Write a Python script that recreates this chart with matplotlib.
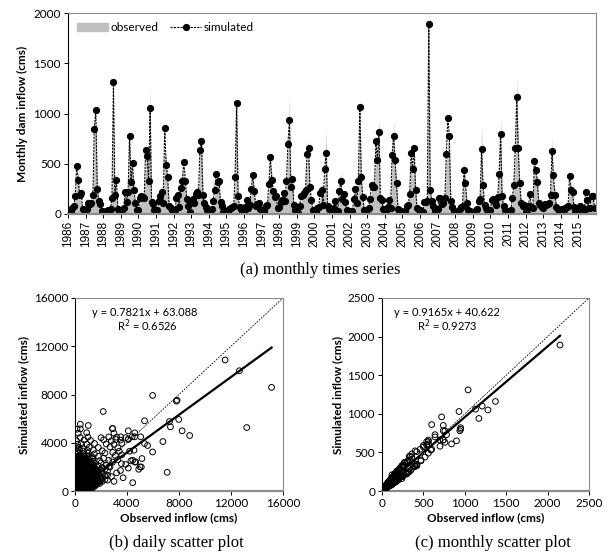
import matplotlib
matplotlib.use('Agg')
import matplotlib.pyplot as plt
from matplotlib.patches import Patch
from matplotlib.lines import Line2D
import pandas as pd

plt.rcParams['font.family'] = ['Lato', 'DejaVu Sans']

# monthly dam inflow (cms), one row per year, Jan..Dec, 1986-2015
SIM = [
    10, 15, 30, 60, 80, 180, 480, 340, 190, 210, 50, 40,
    40, 50, 110, 100, 110, 190, 850, 1030, 250, 130, 100, 30,
    10, 20, 30, 40, 40, 50, 160, 1310, 190, 340, 50, 30,
    30, 40, 60, 220, 120, 220, 780, 320, 510, 240, 110, 40,
    40, 160, 180, 170, 160, 640, 580, 330, 1050, 120, 100, 40,
    30, 40, 130, 180, 220, 110, 860, 490, 370, 80, 60, 40,
    30, 40, 160, 190, 70, 260, 330, 520, 330, 150, 80, 20,
    130, 150, 110, 200, 220, 190, 640, 730, 190, 110, 70, 40,
    30, 20, 50, 130, 240, 400, 320, 330, 120, 80, 20, 30,
    20, 30, 50, 60, 70, 80, 370, 1100, 180, 70, 50, 30,
    20, 70, 140, 60, 90, 250, 390, 230, 80, 100, 110, 50,
    10, 20, 30, 80, 90, 300, 570, 340, 230, 170, 180, 60,
    70, 120, 140, 210, 130, 330, 700, 940, 270, 350, 90, 40,
    20, 10, 80, 180, 190, 210, 240, 600, 660, 270, 140, 40,
    20, 30, 60, 70, 210, 240, 90, 450, 610, 80, 50, 30,
    30, 60, 130, 20, 30, 230, 330, 150, 200, 120, 40, 30,
    30, 20, 30, 150, 250, 110, 330, 1060, 370, 170, 40, 30,
    40, 60, 150, 290, 270, 270, 730, 540, 820, 160, 140, 50,
    30, 20, 70, 140, 60, 590, 780, 540, 310, 50, 40, 30,
    20, 10, 30, 80, 90, 200, 610, 450, 660, 240, 60, 40,
    40, 20, 20, 120, 120, 130, 1890, 240, 130, 80, 30, 40,
    50, 160, 160, 100, 110, 160, 600, 960, 780, 130, 70, 30,
    20, 10, 30, 50, 70, 80, 440, 310, 110, 40, 30, 20,
    10, 20, 40, 50, 130, 150, 650, 290, 90, 60, 40, 30,
    40, 140, 150, 120, 90, 170, 400, 800, 180, 80, 40, 30,
    20, 30, 40, 160, 290, 660, 1160, 660, 310, 110, 80, 90,
    20, 10, 80, 200, 70, 60, 530, 440, 320, 110, 90, 70,
    60, 100, 90, 100, 110, 190, 630, 390, 190, 70, 50, 30,
    20, 50, 40, 60, 70, 80, 380, 240, 220, 70, 30, 30,
    40, 80, 50, 60, 30, 220, 140, 60, 60, 180, 180, 60,
]
OBS = [
    8, 12, 35, 45, 110, 140, 360, 420, 150, 120, 70, 35,
    35, 45, 70, 130, 90, 150, 740, 930, 330, 110, 70, 35,
    12, 18, 28, 45, 50, 60, 240, 1040, 150, 260, 60, 28,
    28, 45, 70, 150, 170, 200, 760, 400, 420, 180, 90, 45,
    45, 110, 220, 130, 200, 540, 700, 240, 1280, 170, 70, 38,
    32, 45, 90, 130, 290, 80, 600, 560, 270, 110, 55, 35,
    28, 42, 110, 240, 60, 180, 420, 400, 260, 190, 60, 25,
    90, 200, 80, 150, 300, 140, 560, 780, 250, 80, 75, 38,
    32, 25, 55, 90, 180, 330, 400, 260, 160, 50, 25, 32,
    22, 30, 45, 65, 80, 90, 280, 1210, 130, 80, 45, 30,
    25, 50, 100, 70, 60, 200, 470, 170, 110, 70, 80, 55,
    12, 22, 35, 60, 120, 220, 500, 420, 160, 210, 130, 55,
    65, 90, 190, 150, 170, 250, 640, 1170, 200, 400, 70, 45,
    22, 12, 60, 130, 240, 150, 300, 540, 740, 200, 100, 45,
    25, 28, 55, 80, 150, 310, 70, 340, 840, 110, 55, 32,
    30, 45, 170, 25, 35, 170, 420, 110, 240, 90, 45, 30,
    28, 25, 35, 110, 320, 80, 260, 1130, 300, 210, 45, 32,
    45, 55, 110, 220, 350, 200, 640, 600, 950, 120, 170, 55,
    32, 22, 65, 180, 50, 500, 940, 460, 380, 55, 42, 30,
    22, 12, 35, 60, 130, 150, 560, 330, 700, 300, 65, 42,
    42, 22, 25, 90, 160, 100, 2150, 310, 110, 85, 32, 42,
    55, 120, 200, 80, 130, 120, 540, 720, 740, 170, 75, 32,
    22, 12, 32, 55, 65, 110, 520, 250, 140, 42, 32, 22,
    12, 22, 42, 55, 90, 190, 900, 220, 120, 65, 42, 32,
    42, 100, 190, 90, 120, 130, 470, 950, 140, 85, 42, 32,
    22, 32, 45, 120, 330, 560, 1370, 740, 250, 150, 85, 95,
    22, 12, 75, 150, 100, 65, 590, 360, 400, 80, 95, 75,
    65, 70, 120, 80, 150, 150, 760, 310, 250, 75, 55, 32,
    22, 55, 45, 55, 75, 85, 310, 300, 160, 75, 32, 32,
    42, 60, 55, 65, 35, 160, 190, 65, 55, 130, 230, 65,
]
YEARS = list(range(1986, 2016))

# daily (observed, simulated) pairs, cms
DAILY_CORE = [
    (20, 40), (150, 70), (300, 30), (480, 90), (650, 50), (820, 110), (1000, 160),
    (60, 210), (210, 250), (380, 190), (560, 240), (740, 200), (950, 260), (1150, 230), (1350, 300),
    (10, 380), (130, 420), (290, 370), (450, 410), (620, 390), (800, 440), (990, 380), (1200, 420), (1420, 460), (1650, 520),
    (40, 560), (190, 600), (350, 570), (520, 590), (700, 550), (880, 610), (1080, 580), (1300, 620), (1550, 600), (1800, 700),
    (0, 740), (110, 780), (270, 750), (430, 770), (610, 730), (790, 790), (960, 760), (1160, 740), (1380, 800), (1620, 770), (1950, 850),
    (50, 930), (200, 960), (370, 940), (540, 980), (720, 920), (900, 950), (1090, 990), (1270, 930), (1480, 970), (1750, 1000), (2100, 1050),
    (20, 1120), (160, 1150), (320, 1100), (490, 1140), (660, 1160), (840, 1110), (1020, 1130), (1210, 1170), (1400, 1120), (1650, 1150), (1900, 1200), (2300, 1250),
    (80, 1300), (240, 1340), (410, 1310), (580, 1290), (760, 1350), (940, 1320), (1130, 1300), (1330, 1360), (1560, 1310), (1820, 1380), (2150, 1420),
    (10, 1490), (150, 1520), (310, 1480), (480, 1510), (650, 1530), (830, 1470), (1010, 1500), (1200, 1540), (1420, 1490), (1700, 1520), (2050, 1600), (2500, 1650),
    (60, 1680), (220, 1700), (390, 1660), (560, 1720), (740, 1690), (920, 1710), (1110, 1670), (1320, 1730), (1580, 1700), (1900, 1760), (2300, 1800),
    (30, 1870), (180, 1900), (340, 1850), (510, 1890), (690, 1920), (880, 1860), (1080, 1880), (1290, 1910), (1550, 1870), (2100, 1950), (2700, 2000),
    (90, 2060), (250, 2090), (420, 2040), (600, 2080), (790, 2100), (990, 2050), (1200, 2070), (1450, 2110), (1800, 2080), (2400, 2150),
    (40, 2250), (200, 2280), (380, 2230), (560, 2270), (760, 2300), (970, 2240), (1180, 2260), (1500, 2290), (2000, 2320), (2900, 2400),
    (120, 2450), (290, 2480), (470, 2430), (660, 2470), (870, 2500), (1100, 2440), (1400, 2460), (1900, 2520), (2600, 2550),
    (20, 2650), (210, 2680), (400, 2630), (600, 2690), (820, 2660), (1050, 2640), (1350, 2700), (2200, 2720),
    (100, 2850), (300, 2880), (520, 2830), (740, 2870), (980, 2900), (1300, 2840), (1800, 2880), (3100, 2950),
]
DAILY_DENSE = [
    (90, 130), (230, 150), (390, 110), (570, 160), (740, 120), (900, 170), (1100, 140), (1300, 190),
    (0, 300), (140, 330), (300, 290), (470, 320), (650, 300), (850, 340), (1050, 310), (1260, 350), (1500, 380),
    (70, 480), (240, 500), (400, 470), (580, 510), (760, 490), (940, 520), (1140, 480), (1360, 530), (1600, 560), (1900, 620),
    (20, 660), (160, 690), (330, 650), (500, 680), (680, 700), (860, 660), (1040, 690), (1250, 710), (1480, 680), (1750, 740), (2100, 800),
    (90, 840), (240, 870), (410, 830), (590, 860), (770, 880), (950, 840), (1140, 860), (1350, 880), (1580, 850), (1850, 900), (2300, 950),
    (0, 1030), (130, 1060), (290, 1020), (450, 1050), (620, 1070), (800, 1030), (980, 1050), (1170, 1080), (1370, 1040), (1600, 1070), (2000, 1100),
    (100, 1210), (260, 1240), (430, 1200), (610, 1230), (790, 1250), (980, 1210), (1170, 1230), (1380, 1260), (1700, 1240), (2500, 1300),
    (40, 1400), (200, 1430), (360, 1390), (540, 1420), (720, 1440), (900, 1400), (1090, 1420), (1300, 1450), (1600, 1400), (1950, 1450),
    (90, 1590), (260, 1620), (430, 1580), (610, 1610), (790, 1630), (970, 1590), (1160, 1610), (1400, 1640), (1750, 1600),
    (0, 1770), (150, 1800), (300, 1760), (470, 1790), (650, 1810), (830, 1770), (1020, 1790), (1250, 1820), (1600, 1780),
    (60, 1960), (220, 1990), (380, 1950), (560, 1980), (740, 2000), (930, 1960), (1150, 1980), (1400, 2000),
    (10, 2150), (160, 2180), (320, 2140), (500, 2170), (680, 2190), (880, 2150), (1100, 2170), (1350, 2190),
    (80, 2340), (240, 2370), (420, 2330), (600, 2360), (800, 2380), (1000, 2340), (1250, 2360),
    (50, 2540), (220, 2570), (400, 2530), (580, 2560), (780, 2580), (1000, 2540),
    (140, 2740), (330, 2770), (550, 2730), (800, 2760), (1100, 2780),
]
DAILY_SPREAD = [
    (40, 3090), (240, 3120), (450, 3060), (700, 3110), (1000, 3140), (1500, 3080), (2300, 3150), (2900, 3200),
    (150, 3340), (380, 3370), (640, 3320), (950, 3360), (1400, 3390), (2100, 3330), (3400, 3300),
    (60, 3590), (300, 3620), (600, 3570), (1100, 3630), (1800, 3600), (2700, 3650), (3300, 3580),
    (200, 3880), (500, 3920), (900, 3870), (1500, 3940), (2400, 3900), (3000, 3860), (3600, 3950),
    (100, 4180), (700, 4230), (1200, 4190), (2200, 4250), (2800, 4160), (3500, 4220), (4100, 4300),
    (400, 4440), (1000, 4470), (2000, 4420), (2600, 4480), (3200, 4460), (3900, 4430), (4400, 4500),
    (250, 4790), (900, 4830), (3000, 4780), (4600, 4820), (150, 5120), (2900, 5180),
    (2500, 900), (2800, 1200), (3000, 800), (3200, 1500), (3500, 1700), (3700, 1100), (3900, 2200),
    (4100, 1900), (4300, 2500), (4600, 2400), (4900, 1800), (5000, 2000), (3300, 2600), (2600, 2000),
    (3600, 3000), (4200, 3300),
]
DAILY_OUTER = [
    (11550, 10860), (12650, 9970), (15120, 8590), (13210, 5260), (5970, 7920), (7850, 7530),
    (7800, 7450), (2170, 6590), (410, 5540), (410, 5150), (1020, 5430), (7980, 5930), (7270, 5760),
    (5350, 5820), (7340, 5320), (8240, 4990), (8820, 4600), (6760, 4100), (5970, 3240), (5580, 3770),
    (7090, 1550), (4440, 690), (5150, 2690), (5100, 1990), (2880, 5180), (4100, 4990), (4100, 4270),
    (4590, 4490), (5050, 4490), (5350, 3930), (4440, 2550), (4670, 2410), (4540, 3380), (3570, 2270),
    (3140, 4270), (3520, 4490),
]
DAILY_FIT = (0.7821, 63.088)
MONTHLY_FIT = (0.9165, 40.622)

W, H = 615, 558
fig = plt.figure(figsize=(W / 100, H / 100), dpi=100)


def box(l, t, r, b):
    return [l / W, 1 - b / H, (r - l) / W, (b - t) / H]


def style(ax):
    ax.spines['left'].set_color('black')
    ax.spines['right'].set_color('#8c8c8c')
    ax.spines['top'].set_color('#8c8c8c')
    ax.spines['bottom'].set_color('#8c8c8c')
    ax.spines['bottom'].set_linewidth(1.6)
    ax.tick_params(direction='out', length=3, width=0.7, labelsize=8.5, pad=2)


# (a) monthly time series
ax = fig.add_axes(box(68, 13, 596, 214))
dates = pd.date_range('1986-01-01', periods=len(SIM), freq='MS')
ax.fill_between(dates, OBS, color='#c0c0c0', lw=0)
ax.plot(dates, SIM, color='black', ls='--', dashes=(2, 1), lw=0.8,
        marker='o', ms=4.2)
ax.set_xlim(dates[0], pd.Timestamp('2016-01-01'))
ax.set_ylim(0, 2000)
ax.set_yticks([0, 500, 1000, 1500, 2000])
ticks = [pd.Timestamp(f'{y}-01-01') for y in YEARS]
ax.set_xticks(ticks)
ax.set_xticklabels([str(y) for y in YEARS], rotation=90,
                   family='Liberation Sans', fontsize=8.5)
style(ax)
ax.set_ylabel('Monthly dam inflow (cms)', fontweight='bold', fontsize=8.5)
handles = [Patch(color='#c0c0c0'),
           Line2D([], [], color='black', ls='--', dashes=(2, 1), lw=0.8,
                  marker='o', ms=4.2)]
ax.legend(handles, ['observed', 'simulated'], loc='upper left', ncol=2,
          frameon=False, fontsize=8.5, handlelength=2.6, handletextpad=0.2,
          columnspacing=1.0, borderaxespad=0.4, bbox_to_anchor=(0.0, 1.0))
fig.text(320 / W, 1 - 270 / H, '(a) monthly times series',
         family='Liberation Serif', fontsize=12, ha='center', va='center')

# (b) daily scatter
pairs = DAILY_CORE + DAILY_DENSE + DAILY_SPREAD + DAILY_OUTER
dobs = [p[0] for p in pairs]
dsim = [p[1] for p in pairs]
axb = fig.add_axes(box(75, 298, 283, 491))
axb.scatter(dobs, dsim, s=17, facecolors='none', edgecolors='black',
            linewidths=0.7, zorder=3)
axb.plot([0, 16000], [0, 16000], color='black', ls='--', dashes=(2, 1.5),
         lw=0.6)
xmax = max(dobs)
axb.plot([0, xmax], [DAILY_FIT[1], DAILY_FIT[0] * xmax + DAILY_FIT[1]],
         color='black', lw=1.6, zorder=4)
axb.set_xlim(0, 16000)
axb.set_ylim(0, 16000)
axb.set_xticks([0, 4000, 8000, 12000, 16000])
axb.set_yticks([0, 4000, 8000, 12000, 16000])
style(axb)
axb.set_xlabel('Observed inflow (cms)', fontweight='bold', fontsize=8.5,
               labelpad=2)
axb.set_ylabel('Simulated inflow (cms)', fontweight='bold', fontsize=8.5,
               labelpad=3)
axb.text(0.08, 0.925, 'y = 0.7821x + 63.088', transform=axb.transAxes,
         fontsize=8, va='center')
axb.text(0.2, 0.855, 'R$^2$ = 0.6526', transform=axb.transAxes, fontsize=8,
         va='center')
fig.text(176 / W, 1 - 543 / H, '(b) daily scatter plot',
         family='Liberation Serif', fontsize=12, ha='center', va='center')

# (c) monthly scatter
axc = fig.add_axes(box(382, 298, 589, 491))
axc.scatter(OBS, SIM, s=17, facecolors='none', edgecolors='black',
            linewidths=0.7, zorder=3)
axc.plot([0, 2500], [0, 2500], color='black', ls='--', dashes=(2, 1.5),
         lw=0.6)
xmax = max(OBS)
axc.plot([0, xmax], [MONTHLY_FIT[1], MONTHLY_FIT[0] * xmax + MONTHLY_FIT[1]],
         color='black', lw=1.6, zorder=4)
axc.set_xlim(0, 2500)
axc.set_ylim(0, 2500)
axc.set_xticks([0, 500, 1000, 1500, 2000, 2500])
axc.set_yticks([0, 500, 1000, 1500, 2000, 2500])
style(axc)
axc.set_xlabel('Observed inflow (cms)', fontweight='bold', fontsize=8.5,
               labelpad=2)
axc.set_ylabel('Simulated inflow (cms)', fontweight='bold', fontsize=8.5,
               labelpad=3)
axc.text(0.06, 0.925, 'y = 0.9165x + 40.622', transform=axc.transAxes,
         fontsize=8, va='center')
axc.text(0.17, 0.855, 'R$^2$ = 0.9273', transform=axc.transAxes, fontsize=8,
         va='center')
fig.text(493 / W, 1 - 543 / H, '(c) monthly scatter plot',
         family='Liberation Serif', fontsize=12, ha='center', va='center')

fig.savefig('out.png', dpi=100)
